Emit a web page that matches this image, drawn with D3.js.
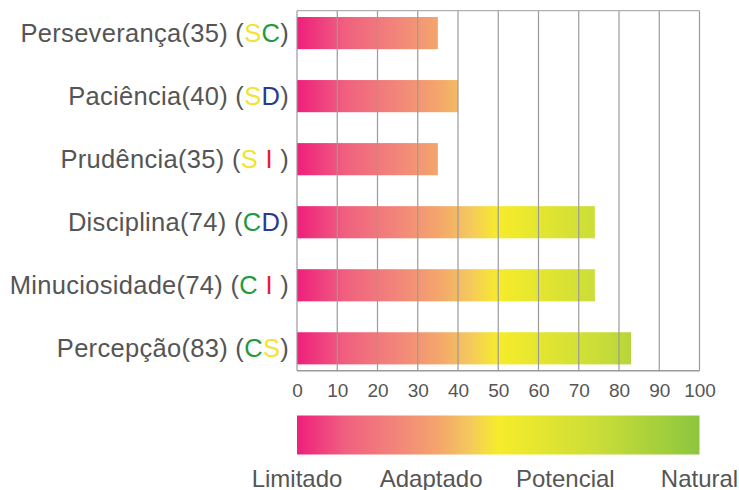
<!DOCTYPE html>
<html><head><meta charset="utf-8">
<script src="https://cdn.jsdelivr.net/npm/d3@7"></script>
<style>body{margin:0;background:#fff}svg{display:block}text{font-family:"Liberation Sans",Arial,sans-serif}</style>
</head><body><svg id="c" width="739" height="490"></svg>
<script>
const names = ["Perseverança","Paciência","Prudência","Disciplina","Minuciosidade","Percepção"];
const values = [35,40,35,74,74,83];
const codes = [["S","C"],["S","D"],["S","I"],["C","D"],["C","I"],["C","S"]];
const xTicks = [0,10,20,30,40,50,60,70,80,90,100];
const legendLabels = ["Limitado","Adaptado","Potencial","Natural"];
const legendPos = [0,33.33,66.67,100];
const letterColors = {S:"#f2e430",C:"#1f9a3e",D:"#2b3990",I:"#e5202e"};
const gradStops = [[0,"#ee1f7b"],[0.12,"#f0607f"],[0.25,"#f2867a"],[0.35,"#f4a56c"],[0.43,"#f5c85e"],[0.5,"#f6ec2a"],[0.75,"#cadd38"],[1,"#8cc63f"]];

const svg = d3.select("#c");
const x = d3.scaleLinear().domain([0,100]).range([297,699.5]);
const plotTop = 10.7, plotBottom = 370.7;
const y = d3.scaleBand().domain(names).range([plotTop,plotBottom]).paddingInner(0.49).paddingOuter(0.1);

const defs = svg.append("defs");
const g = defs.append("linearGradient").attr("id","grad").attr("gradientUnits","userSpaceOnUse")
  .attr("x1",x(0)).attr("x2",x(100)).attr("y1",0).attr("y2",0);
gradStops.forEach(s=>g.append("stop").attr("offset",s[0]).attr("stop-color",s[1]));

// bars
svg.append("g").selectAll("rect").data(names).join("rect")
  .attr("x",x(0)).attr("y",d=>y(d)).attr("height",y.bandwidth())
  .attr("width",(d,i)=>x(values[i])-x(0)).attr("fill","url(#grad)");

// grid on top
svg.append("g").selectAll("line").data(xTicks).join("line")
  .attr("x1",d=>x(d)).attr("x2",d=>x(d)).attr("y1",plotTop).attr("y2",plotBottom)
  .attr("stroke","#9a9a9a").attr("stroke-width",1.2);
svg.append("line").attr("x1",x(0)).attr("x2",x(100)).attr("y1",plotTop).attr("y2",plotTop).attr("stroke","#b0b0b0").attr("stroke-width",1.2);
svg.append("line").attr("x1",x(0)).attr("x2",x(100)).attr("y1",plotBottom).attr("y2",plotBottom).attr("stroke","#9a9a9a").attr("stroke-width",1.5);

// tick labels
const ax = svg.append("g").attr("transform",`translate(0,${plotBottom})`)
  .call(d3.axisBottom(x).tickValues(xTicks).tickSize(0).tickPadding(12.5));
ax.select(".domain").remove();
ax.selectAll("text").attr("font-size",19).attr("fill","#555").attr("font-family","Liberation Sans, Arial, sans-serif");

// category labels
const lab = svg.append("g").selectAll("text").data(names).join("text")
  .attr("x",289).attr("y",d=>y(d)+y.bandwidth()/2).attr("dy","0.36em")
  .attr("text-anchor","end").attr("font-size",25.5).attr("letter-spacing",0.3).attr("fill","#555");
lab.each(function(d,i){
  const t = d3.select(this);
  t.append("tspan").text(`${d}(${values[i]}) (`);
  codes[i].forEach(c=>t.append("tspan").attr("fill",letterColors[c]).text(c==="I"?" I ":c));
  t.append("tspan").text(")");
});

// legend bar
svg.append("rect").attr("x",x(0)).attr("y",415.5).attr("width",x(100)-x(0)).attr("height",39).attr("fill","url(#grad)");
svg.append("g").selectAll("text").data(legendLabels).join("text")
  .attr("x",(d,i)=>x(legendPos[i])).attr("y",487).attr("text-anchor","middle")
  .attr("font-size",24).attr("fill","#555").text(d=>d);
</script></body></html>
